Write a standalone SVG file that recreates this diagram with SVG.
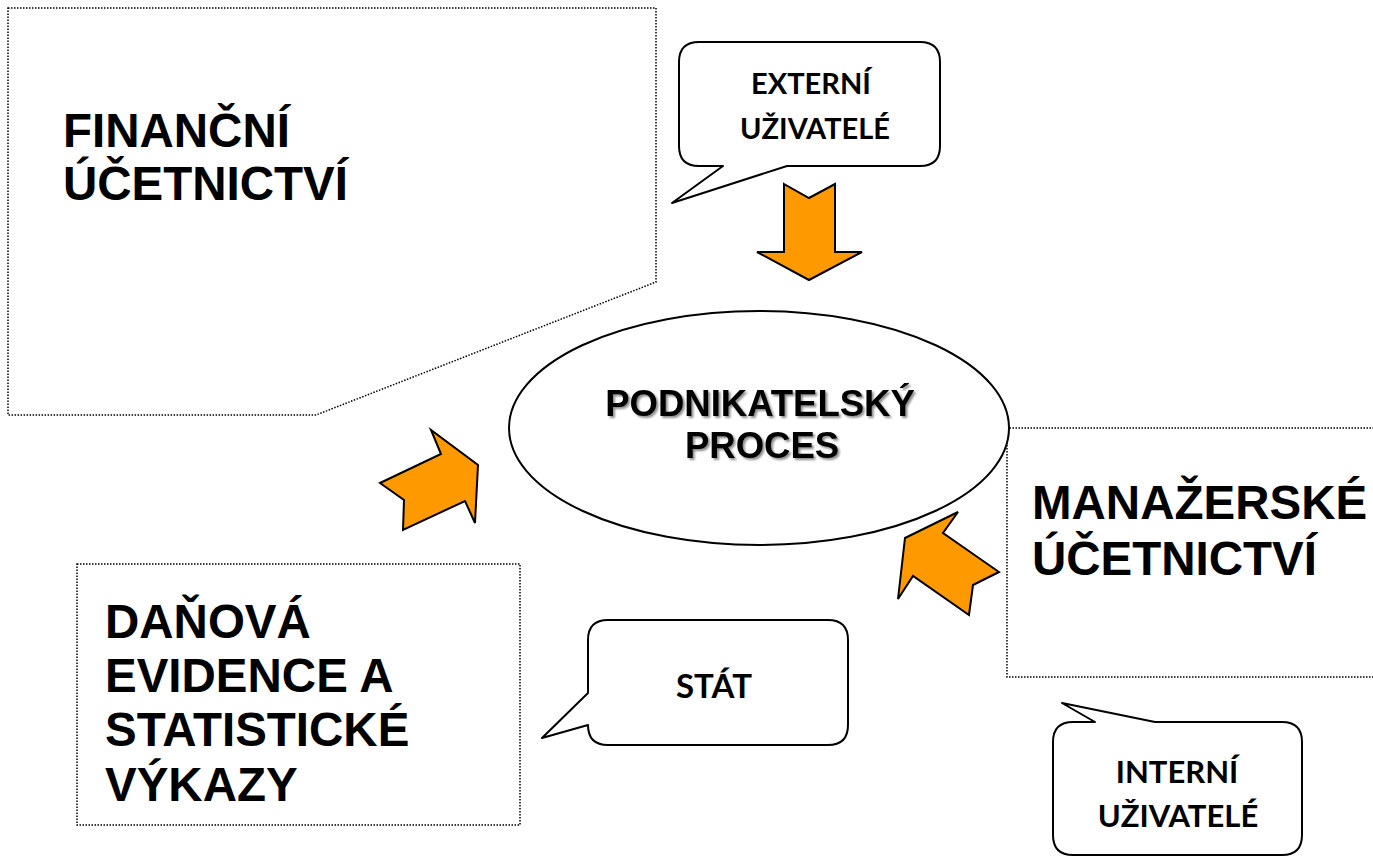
<svg xmlns="http://www.w3.org/2000/svg" width="1373" height="857" viewBox="0 0 1373 857">
<defs>
<style>
.dotbox{fill:#fff;stroke:#000;stroke-width:1.5;stroke-dasharray:1.5 1.5}
.bubble{fill:#fff;stroke:#000;stroke-width:2;stroke-linejoin:round}
.arrow{fill:#FF9900;stroke:#000;stroke-width:2;stroke-linejoin:miter}
.big{font-family:"Liberation Sans",Arial,sans-serif;font-weight:bold;font-size:47.5px;fill:#000}
.mid{font-family:"Liberation Sans",Arial,sans-serif;font-weight:bold;font-size:36.5px;fill:#000;text-anchor:middle}
.small{font-family:Lato,"Liberation Sans",sans-serif;font-weight:bold;font-size:29px;fill:#000;text-anchor:middle}
</style>
<filter id="shadow" x="-10%" y="-20%" width="120%" height="150%">
<feDropShadow dx="2" dy="2" stdDeviation="1.2" flood-color="#000" flood-opacity="0.45"/>
</filter>
</defs>
<rect width="1373" height="857" fill="#fff"/>

<g id="financni">
<path class="dotbox" d="M8,8 H656 V282 L316,415 H8 Z"/>
<text class="big"><tspan x="63" y="147">FINANČNÍ</tspan><tspan x="63" y="200">ÚČETNICTVÍ</tspan></text>
</g>

<g id="manazerske">
<path class="dotbox" d="M1380,428 H1007 V677 H1380"/>
<text class="big"><tspan x="1032" y="519">MANAŽERSKÉ</tspan><tspan x="1032" y="575">ÚČETNICTVÍ</tspan></text>
</g>

<g id="danova">
<rect class="dotbox" x="77" y="564" width="443" height="261"/>
<text class="big"><tspan x="105" y="638">DAŇOVÁ</tspan><tspan x="105" y="692">EVIDENCE A</tspan><tspan x="105" y="746">STATISTICKÉ</tspan><tspan x="105" y="801">VÝKAZY</tspan></text>
</g>

<g id="proces">
<ellipse cx="759" cy="428" rx="250" ry="117" fill="#fff" stroke="#000" stroke-width="2"/>
<text class="mid" filter="url(#shadow)"><tspan x="760" y="416">PODNIKATELSKÝ</tspan><tspan x="762" y="458">PROCES</tspan></text>
</g>

<g id="externi">
<path class="bubble" d="M699,42 H920 Q940,42 940,62 V146 Q940,166 920,166 H787 L672,203 L723,166 H699 Q679,166 679,146 V62 Q679,42 699,42 Z"/>
<text class="small"><tspan x="811" y="94">EXTERNÍ</tspan><tspan x="815" y="139">UŽIVATELÉ</tspan></text>
</g>

<g id="stat">
<path class="bubble" d="M608,620 H828 Q848,620 848,640 V725 Q848,745 828,745 H608 Q588,745 588,725 L542,738 L588,693 V640 Q588,620 608,620 Z"/>
<text class="small" x="714" y="698" style="font-size:33px">STÁT</text>
</g>

<g id="interni">
<path class="bubble" d="M1073,722 H1095 L1062,703 L1155,722 H1282 Q1302,722 1302,742 V835 Q1302,855 1282,855 H1073 Q1053,855 1053,835 V742 Q1053,722 1073,722 Z"/>
<text class="small" style="font-size:31px"><tspan x="1177" y="783">INTERNÍ</tspan><tspan x="1178" y="827">UŽIVATELÉ</tspan></text>
</g>

<g id="connectors">
<polygon class="arrow" points="784,184 809,198 835,184 835,252 862,252 809,280 757,252 784,252"/>
<polygon class="arrow" points="380,483 441,454 431,430 478,465 475,523 465,501 403,530 404,500"/>
<polygon class="arrow" points="905,538 958,512 943,533 999,572 973,585 969,615 913,576 898,599"/>
</g>
</svg>
